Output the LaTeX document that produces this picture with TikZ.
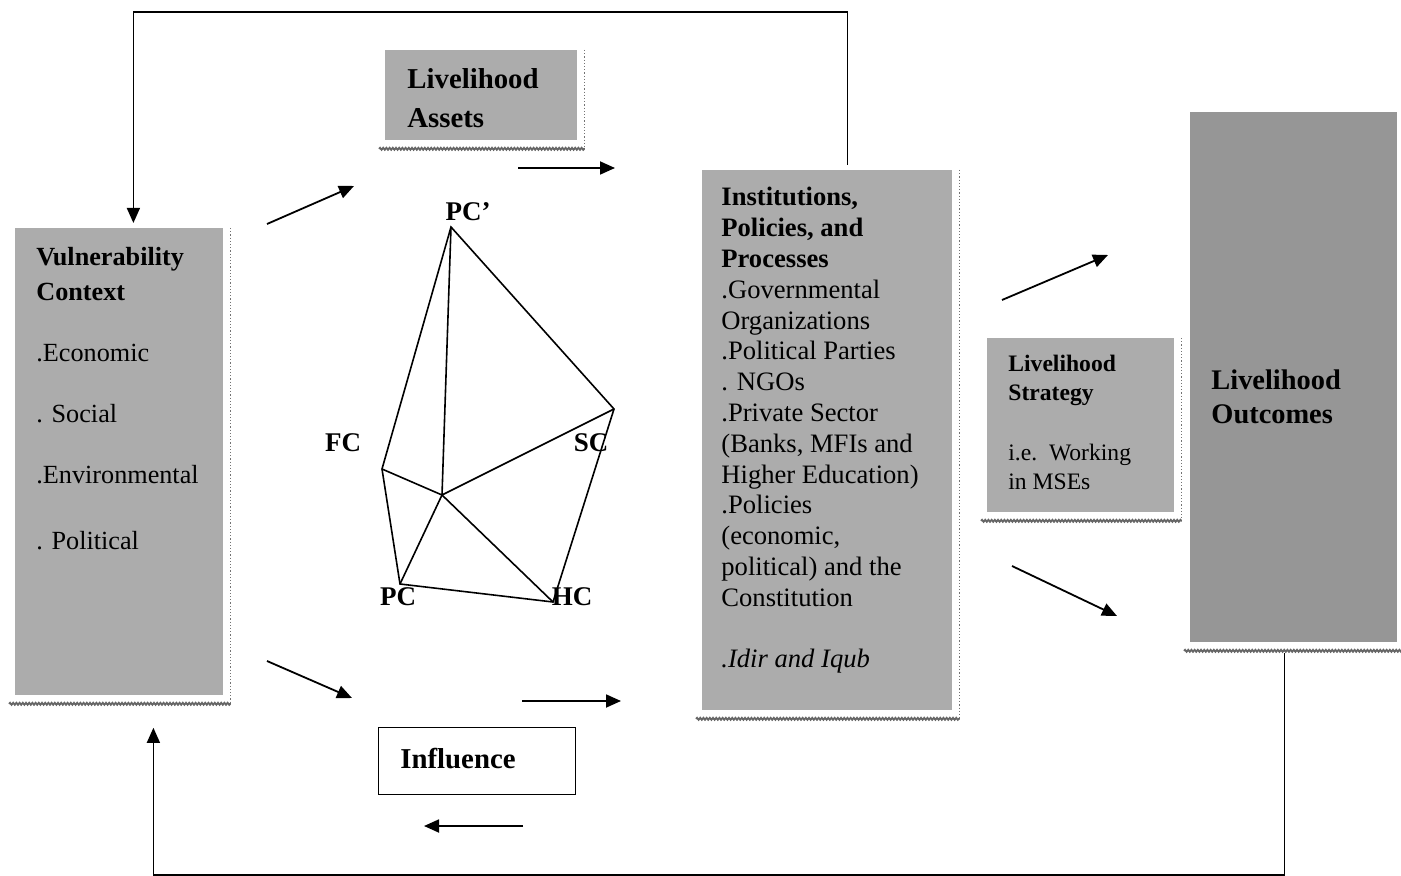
\documentclass[tikz,border=0pt]{standalone}
\usepackage{fontspec}
\setmainfont{Liberation Serif}
\usetikzlibrary{arrows.meta,positioning,calc,decorations.pathmorphing}
\definecolor{dotgray}{RGB}{172,172,172}
\definecolor{darkdot}{RGB}{150,150,150}
\tikzset{
  panel/.style={rectangle, draw=none, fill=dotgray, inner sep=0pt, anchor=north west},
  boxtxt/.style={anchor=north west, inner sep=0pt, align=left, font=\fontsize{13.2}{15.4}\selectfont},
  rimdot/.style={draw=black!55, densely dotted, line width=0.6pt},
  rimwave/.style={draw=black!60, line width=0.9pt, decorate, decoration={snake, amplitude=0.5pt, segment length=1.6pt}},
  flow/.style={-{Triangle[length=7.5pt,width=6.5pt]}, line width=0.9pt},
  loopline/.style={-{Triangle[length=7.5pt,width=6.5pt]}, line width=0.7pt},
  tie/.style={line width=0.8pt},
  capital/.style={font=\fontsize{13.5}{15}\selectfont\bfseries, inner sep=0pt}
}

\begin{document}
\begin{tikzpicture}[x=0.5pt, y=-0.5pt]
  \useasboundingbox (0,0) rectangle (1401,876);

  % Panels
  \node[panel, minimum width=104pt, minimum height=233.5pt] (vul) at (15,228) {};
  \node[panel, minimum width=96pt, minimum height=45pt] (assets) at (385,50) {};
  \node[panel, minimum width=125pt, minimum height=270pt] (inst) at (702,170) {};
  \node[panel, minimum width=93.5pt, minimum height=87pt] (strat) at (987,338) {};
  \node[panel, fill=darkdot, minimum width=103.5pt, minimum height=265pt] (outc) at (1190,112) {};
  \node[panel, draw, fill=white, line width=0.7pt, minimum width=98.5pt, minimum height=33.5pt] (infl) at (378,727) {};

  % Shadow rims
  \foreach \p in {vul, assets, inst, strat, outc} {
    \draw[rimdot] ([xshift=3.5pt]\p.north east) -- ([xshift=3.5pt,yshift=-4pt]\p.south east);
    \draw[rimwave] ([xshift=-3pt,yshift=-4pt]\p.south west) -- ([xshift=3.5pt,yshift=-4pt]\p.south east);
  }

  % Panel texts
  \node[boxtxt, font=\fontsize{13.1}{17.5}\selectfont] (vultxt) at ($(vul.north west)+(21,19)$)
    {\textbf{Vulnerability}\\\textbf{Context}\\[13pt].Economic\\[13pt]. Social\\[13pt].Environmental\\[15.5pt]. Political};
  \node[boxtxt, font=\fontsize{14.4}{19.5}\selectfont\bfseries] (assetstxt) at ($(assets.north west)+(22,18)$)
    {Livelihood\\Assets};
  \node[boxtxt, font=\fontsize{13.3}{15.4}\selectfont] (insttxt) at ($(inst.north west)+(19,17)$)
    {\textbf{Institutions,}\\\textbf{Policies, and}\\\textbf{Processes}\\.Governmental\\Organizations\\.Political Parties\\. NGOs\\.Private Sector\\(Banks, MFIs and\\Higher Education)\\.Policies\\(economic,\\political) and the\\Constitution\\[15pt]\textit{.Idir and Iqub}};
  \node[boxtxt, font=\fontsize{11.8}{14.5}\selectfont] (strattxt) at ($(strat.north west)+(21,17)$)
    {\textbf{Livelihood}\\\textbf{Strategy}\\[15.5pt]i.e.\ \ Working\\in MSEs};
  \node[boxtxt, font=\fontsize{14.2}{17}\selectfont\bfseries] (outctxt) at ($(outc.north west)+(21,257)$)
    {Livelihood\\Outcomes};
  \node[anchor=west, inner sep=0pt, font=\fontsize{14.4}{17}\selectfont\bfseries] (infltxt) at ($(infl.west)+(22,-3)$) {Influence};

  % Asset pentagon
  \coordinate (top) at (451,227);
  \coordinate (fc) at (382,469);
  \coordinate (sc) at (614,409);
  \coordinate (mid) at (442,495);
  \coordinate (pc) at (400,584);
  \coordinate (hc) at (553,602);
  \draw[tie] (top) -- (fc) -- (pc) -- (hc) -- (sc) -- cycle;
  \draw[tie] (top) -- (mid) -- (sc);
  \draw[tie] (fc) -- (mid) -- (hc);
  \draw[tie] (pc) -- (mid);
  \node[capital] (toplbl) at (468,212) {PC’};
  \node[capital] (fclbl) at (343,443) {FC};
  \node[capital] (sclbl) at (591,443) {SC};
  \node[capital] (pclbl) at (398,597) {PC};
  \node[capital] (hclbl) at (572,597) {HC};

  % Short flow arrows
  \coordinate (f1a) at (267,224);  \coordinate (f1b) at (354,186);
  \coordinate (f2a) at (518,168);  \coordinate (f2b) at (615,168);
  \coordinate (f3a) at (267,661);  \coordinate (f3b) at (352,698);
  \coordinate (f4a) at (522,701);  \coordinate (f4b) at (621,701);
  \coordinate (f5a) at (1002,300); \coordinate (f5b) at (1108,255);
  \coordinate (f6a) at (1012,566); \coordinate (f6b) at (1117,616);
  \coordinate (f7a) at (523,826);  \coordinate (f7b) at (424,826);
  \foreach \i in {1,...,7} \draw[flow] (f\i a) -- (f\i b);

  % Feedback loops
  \draw[loopline] ([xshift=10pt,yshift=2.5pt]inst.north) -- ++(0,-153) -| ([xshift=7pt,yshift=2.5pt]vul.north);
  \draw[loopline] ([xshift=-4.75pt,yshift=-5pt]outc.south) -- ++(0,222) -| ([xshift=17pt,yshift=-16pt]vul.south);
\end{tikzpicture}
\end{document}
